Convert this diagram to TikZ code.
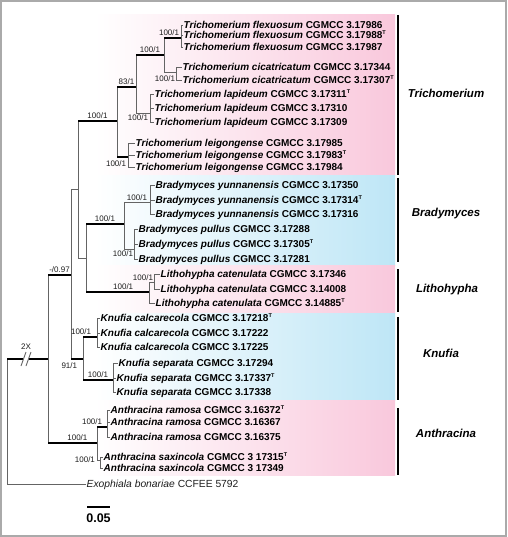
\documentclass[tikz,border=0pt]{standalone}
\usepackage{fontspec}
\setmainfont{Liberation Sans}
\usetikzlibrary{positioning}

\definecolor{cladepink}{RGB}{249,200,220}
\definecolor{cladeblue}{RGB}{190,230,246}
\definecolor{branchgray}{RGB}{100,100,100}
\definecolor{supgray}{RGB}{30,30,30}
\definecolor{framegray}{RGB}{170,170,170}

\newcommand{\tstrain}{\textsuperscript{\fontsize{5.5}{6}\selectfont T}}

\begin{document}
\begin{tikzpicture}[x=1pt, y=-1pt]
    \tikzstyle{br} = [draw=branchgray, line width=0.9pt]
    \tikzstyle{stem} = [draw=black, line width=2.6pt]
    \tikzstyle{taxon} = [anchor=west, inner sep=0.5pt, text height=7.2pt,
	text depth=0.6pt, font=\fontsize{10}{12}\selectfont\bfseries]
    \tikzstyle{sup} = [inner sep=0.6pt, text=supgray, font=\fontsize{8}{9}\selectfont]
    \tikzstyle{clade} = [font=\fontsize{11.5}{14}\selectfont\bfseries\itshape]
    \tikzstyle{bar} = [draw=black, line width=2pt]

    \useasboundingbox (0,0) rectangle (507,537);
    \fill[white] (0,0) rectangle (507,537);
    \draw[framegray, line width=2pt] (1,1) rectangle (506,536);

    % genus blocks
    \shade[left color=white, right color=cladepink] (95,15) rectangle (395,176);
    \shade[left color=white, right color=cladeblue] (95,176) rectangle (395,265);
    \shade[left color=white, right color=cladepink] (95,265) rectangle (395,313);
    \shade[left color=white, right color=cladeblue] (95,313) rectangle (395,400);
    \shade[left color=white, right color=cladepink] (95,400) rectangle (395,475);

    % internal nodes
    \coordinate (r) at (7,359);
    \coordinate (cutl) at (23,359);
    \coordinate (cutr) at (29,359);
    \coordinate (i) at (48,359);
    \coordinate (a) at (71,275);
    \coordinate (b) at (78,189);
    \coordinate (tri) at (117,121);
    \coordinate (t83) at (136,87);
    \coordinate (t100) at (164,55);
    \coordinate (flex) at (181,38);
    \coordinate (cic) at (176,72);
    \coordinate (lap) at (150,113);
    \coordinate (leig) at (128,157);
    \coordinate (bl) at (86,258);
    \coordinate (brad) at (124,224);
    \coordinate (yun) at (150,202);
    \coordinate (pul) at (134,249);
    \coordinate (lith) at (149,292);
    \coordinate (l1) at (154,282);
    \coordinate (kn) at (83,359);
    \coordinate (calc) at (97,337);
    \coordinate (sep) at (113,380);
    \coordinate (anth) at (97,443);
    \coordinate (ram) at (107,427);
    \coordinate (sax) at (100,460);

    % tips
    \node[taxon] (fx1) at (183,25) {\textit{Trichomerium flexuosum} CGMCC 3.17986};
    \node[taxon] (fx2) at (183,35) {\textit{Trichomerium flexuosum} CGMCC 3.17988\tstrain};
    \node[taxon] (fx3) at (183,47) {\textit{Trichomerium flexuosum} CGMCC 3.17987};
    \node[taxon] (ci1) at (182,67) {\textit{Trichomerium cicatricatum} CGMCC 3.17344};
    \node[taxon] (ci2) at (182,80) {\textit{Trichomerium cicatricatum} CGMCC 3.17307\tstrain};
    \node[taxon] (la1) at (154,94) {\textit{Trichomerium lapideum} CGMCC 3.17311\tstrain};
    \node[taxon] (la2) at (154,108) {\textit{Trichomerium lapideum} CGMCC 3.17310};
    \node[taxon] (la3) at (154,122) {\textit{Trichomerium lapideum} CGMCC 3.17309};
    \node[taxon] (le1) at (135,143) {\textit{Trichomerium leigongense} CGMCC 3.17985};
    \node[taxon] (le2) at (135,155) {\textit{Trichomerium leigongense} CGMCC 3.17983\tstrain};
    \node[taxon] (le3) at (135,167) {\textit{Trichomerium leigongense} CGMCC 3.17984};
    \node[taxon] (yu1) at (155,185) {\textit{Bradymyces yunnanensis} CGMCC 3.17350};
    \node[taxon] (yu2) at (155,200) {\textit{Bradymyces yunnanensis} CGMCC 3.17314\tstrain};
    \node[taxon] (yu3) at (155,214) {\textit{Bradymyces yunnanensis} CGMCC 3.17316};
    \node[taxon] (pu1) at (138,229) {\textit{Bradymyces pullus} CGMCC 3.17288};
    \node[taxon] (pu2) at (138,244) {\textit{Bradymyces pullus} CGMCC 3.17305\tstrain};
    \node[taxon] (pu3) at (138,259) {\textit{Bradymyces pullus} CGMCC 3.17281};
    \node[taxon] (li1) at (160,274) {\textit{Lithohypha catenulata} CGMCC 3.17346};
    \node[taxon] (li2) at (160,289) {\textit{Lithohypha catenulata} CGMCC 3.14008};
    \node[taxon] (li3) at (155,303) {\textit{Lithohypha catenulata} CGMCC 3.14885\tstrain};
    \node[taxon] (ca1) at (100,318) {\textit{Knufia calcarecola} CGMCC 3.17218\tstrain};
    \node[taxon] (ca2) at (100,333) {\textit{Knufia calcarecola} CGMCC 3.17222};
    \node[taxon] (ca3) at (100,347) {\textit{Knufia calcarecola} CGMCC 3.17225};
    \node[taxon] (se1) at (118,363) {\textit{Knufia separata} CGMCC 3.17294};
    \node[taxon] (se2) at (116,378) {\textit{Knufia separata} CGMCC 3.17337\tstrain};
    \node[taxon] (se3) at (116,392) {\textit{Knufia separata} CGMCC 3.17338};
    \node[taxon] (ra1) at (110,410) {\textit{Anthracina ramosa} CGMCC 3.16372\tstrain};
    \node[taxon] (ra2) at (110,422) {\textit{Anthracina ramosa} CGMCC 3.16367};
    \node[taxon] (ra3) at (110,437) {\textit{Anthracina ramosa} CGMCC 3.16375};
    \node[taxon] (sa1) at (103,457) {\textit{Anthracina saxincola} CGMCC 3 17315\tstrain};
    \node[taxon] (sa2) at (103,468) {\textit{Anthracina saxincola} CGMCC 3 17349};
    \node[taxon, font=\fontsize{10.3}{12}\selectfont, text=supgray] (exo) at (86,484)
	{\textit{Exophiala bonariae} CCFEE 5792};

    % thin branches
    \draw[br] (r) |- (exo.west);
    \draw[br] (i) |- (a);
    \draw[br] (i) |- (anth);
    \draw[br] (a) |- (b);
    \draw[br] (a) |- (kn);
    \draw[br] (b) |- (tri);
    \draw[br] (b) |- (bl);
    \draw[br] (tri) |- (t83);
    \draw[br] (tri) |- (leig);
    \draw[br] (t83) |- (t100);
    \draw[br] (t83) |- node[sup, pos=1, anchor=north east, xshift=-1pt, yshift=-1pt] (s6) {100/1} (lap);
    \draw[br] (t100) |- (flex);
    \draw[br] (t100) |- node[sup, pos=1, anchor=north east, yshift=-3pt] (s8) {100/1} (cic);
    \draw[br] (bl) |- (brad);
    \draw[br] (bl) |- (lith);
    \draw[br] (brad) |- node[sup, pos=0.75, above=0.6pt] (s11) {100/1} (yun);
    \draw[br] (brad) |- node[sup, pos=1, anchor=north east, yshift=-1pt] (s12) {100/1} (pul);
    \draw[br] (lith) |- node[sup, pos=1, anchor=south east] (s14) {100/1} (l1);
    \draw[br] (lith) |- (li3.west);
    \draw[br] (kn) |- (calc);
    \draw[br] (kn) |- (sep);
    \draw[br] (anth) |- (ram);
    \draw[br] (anth) |- node[sup, pos=0.5, anchor=east, xshift=-1pt] (s20) {100/1} (sax);

    % tip ticks
    \draw[br] (flex) |- (fx1.west) (flex) |- (fx2.west) (flex) |- (fx3.west);
    \draw[br] (cic) |- (ci1.west) (cic) |- (ci2.west);
    \draw[br] (lap) |- (la1.west) (lap) |- (la2.west) (lap) |- (la3.west);
    \draw[br] (leig) |- (le1.west) (leig) |- (le2.west) (leig) |- (le3.west);
    \draw[br] (yun) |- (yu1.west) (yun) |- (yu2.west) (yun) |- (yu3.west);
    \draw[br] (pul) |- (pu1.west) (pul) |- (pu2.west) (pul) |- (pu3.west);
    \draw[br] (l1) |- (li1.west) (l1) |- (li2.west);
    \draw[br] (calc) |- (ca1.west) (calc) |- (ca2.west) (calc) |- (ca3.west);
    \draw[br] (sep) |- (se1.west) (sep) |- (se2.west) (sep) |- (se3.west);
    \draw[br] (ram) |- (ra1.west) (ram) |- (ra2.west) (ram) |- (ra3.west);
    \draw[br] (sax) |- (sa1.west) (sax) |- (sa2.west);

    % supported branches
    \draw[stem] (r) -- (cutl);
    \draw[stem] (cutr) -- (i);
    \draw[br] (21,366) -- (26,352) (26,366) -- (31,352);
    \node[sup] (brk) at (26,347) {2X};
    \draw[stem] (i |- a) -- node[sup, above=0.6pt] (s1) {-/0.97} (a);
    \draw[stem] (i |- anth) -- node[sup, pos=0.6, above=0.6pt] (s2) {100/1} (anth);
    \draw[stem] (b |- tri) -- node[sup, above=0.6pt] (s3) {100/1} (tri);
    \draw[stem] (tri |- t83) -- node[sup, above=0.6pt] (s4) {83/1} (t83);
    \draw[stem] (tri |- leig) -- node[sup, pos=1, anchor=north east, yshift=-2pt] (s5) {100/1} (leig);
    \draw[stem] (t83 |- t100) -- node[sup, above=0.6pt] (s7) {100/1} (t100);
    \draw[stem] (t100 |- flex) -- node[sup, pos=1, anchor=south east, yshift=1pt] (s9) {100/1} (flex);
    \draw[stem] (bl |- brad) -- node[sup, above=0.6pt] (s10) {100/1} (brad);
    \draw[stem] (bl |- lith) -- node[sup, pos=0.59, above=0.6pt] (s13) {100/1} (lith);
    \draw[stem] (a |- kn) -- node[sup, pos=1, anchor=north east, xshift=-4pt, yshift=-2pt] (s15) {91/1} (kn);
    \draw[stem] (kn |- calc) -- node[sup, pos=1, anchor=south east, xshift=-4pt, yshift=1pt] (s16) {100/1} (calc);
    \draw[stem] (kn |- sep) -- node[sup, above=0.6pt] (s17) {100/1} (sep);
    \draw[stem] (anth |- ram) -- node[sup, pos=1, anchor=south east, xshift=-3pt, yshift=1pt] (s18) {100/1} (ram);

    % genus bars and names
    \draw[bar] (398,15) -- (398,175);
    \draw[bar] (398,178) -- (398,262);
    \draw[bar] (398,269) -- (398,312);
    \draw[bar] (398,317) -- (398,400);
    \draw[bar] (398,408) -- (398,475);
    \node[clade] (gtri) at (446,93) {Trichomerium};
    \node[clade] (gbra) at (446,214) {Bradymyces};
    \node[clade] (glit) at (447,290) {Lithohypha};
    \node[clade] (gknu) at (441,353) {Knufia};
    \node[clade] (gant) at (446,433) {Anthracina};

    % scale
    \coordinate (sb1) at (87,507);
    \coordinate (sb2) at (110,507);
    \draw[line width=2.5pt] (sb1) -- (sb2);
    \node[font=\fontsize{12.5}{14}\selectfont\bfseries] (sbl) at (98.5,518) {0.05};
\end{tikzpicture}
\end{document}
